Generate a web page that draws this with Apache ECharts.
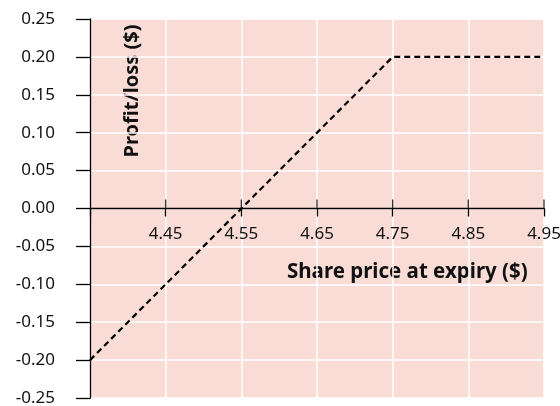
<!DOCTYPE html>
<html><head><meta charset="utf-8">
<script src="https://cdn.jsdelivr.net/npm/echarts@6/dist/echarts.min.js"></script>
<style>html,body{margin:0;padding:0;background:#fff}#c{width:560px;height:406px}</style>
</head><body><div id="c"></div>
<script>
const sharePrice = [4.35, 4.75, 4.95];
const profitLoss = [-0.20, 0.20, 0.20];
const xTicks = [4.45, 4.55, 4.65, 4.75, 4.85, 4.95];
const xTitle = 'Share price at expiry ($)';
const yTitle = 'Profit/loss ($)';
const FONT = 'Noto Sans';
const GRID = { left: 90, right: 16, top: 19, bottom: 8 };
const plotH = 406 - GRID.top - GRID.bottom;
const chart = echarts.init(document.getElementById('c'));
chart.setOption({
  animation: false,
  grid: Object.assign({ show: true, backgroundColor: '#f9dcd5', borderWidth: 0,
          outerBoundsMode: 'none', containLabel: false }, GRID),
  xAxis: {
    type: 'value', min: 4.35, max: 4.95, interval: 0.1,
    position: 'bottom', offset: -plotH / 2,
    axisLine: { onZero: false, lineStyle: { color: '#000', width: 1.3 } },
    axisTick: { show: true, length: 8, lineStyle: { color: '#000', width: 1.3 } },
    axisLabel: { margin: 17, color: '#111', fontFamily: FONT, fontSize: 17,
      formatter: v => (Math.abs(v - 4.35) < 1e-6 ? '' : v.toFixed(2)) },
    splitLine: { show: true, showMinLine: false, lineStyle: { color: '#fff', width: 1.5 } },
    z: 4
  },
  yAxis: {
    type: 'value', min: -0.25, max: 0.25, interval: 0.05,
    axisLine: { show: true, onZero: false, lineStyle: { color: '#000', width: 1.3 } },
    axisTick: { show: true, length: 14, lineStyle: { color: '#000', width: 1.3 } },
    axisLabel: { margin: 35, color: '#111', fontFamily: FONT, fontSize: 17,
      formatter: v => v.toFixed(2) },
    splitLine: { show: true, lineStyle: { color: '#fff', width: 1.5 } },
    z: 3
  },
  series: [{
    type: 'line',
    data: sharePrice.map((x, i) => [x, profitLoss[i]]),
    symbol: 'none',
    lineStyle: { color: '#000', width: 2.2, type: [6, 4] },
    z: 5
  }, {
    type: 'scatter',
    data: xTicks.map(x => [x, 0]),
    symbol: 'rect', symbolSize: [1.3, 9], symbolOffset: [0, -4.5],
    itemStyle: { color: '#000' },
    silent: true, z: 4
  }],
  graphic: [
    { type: 'text', x: 287, y: 272,
      style: { text: xTitle, font: 'bold 20.5px "Noto Sans"', fill: '#111', align: 'left', verticalAlign: 'middle' } },
    { type: 'text', x: 132, y: 91, rotation: Math.PI / 2,
      style: { text: yTitle, font: 'bold 20px "Noto Sans"', fill: '#111', align: 'center', verticalAlign: 'middle' } }
  ]
});
</script></body></html>
